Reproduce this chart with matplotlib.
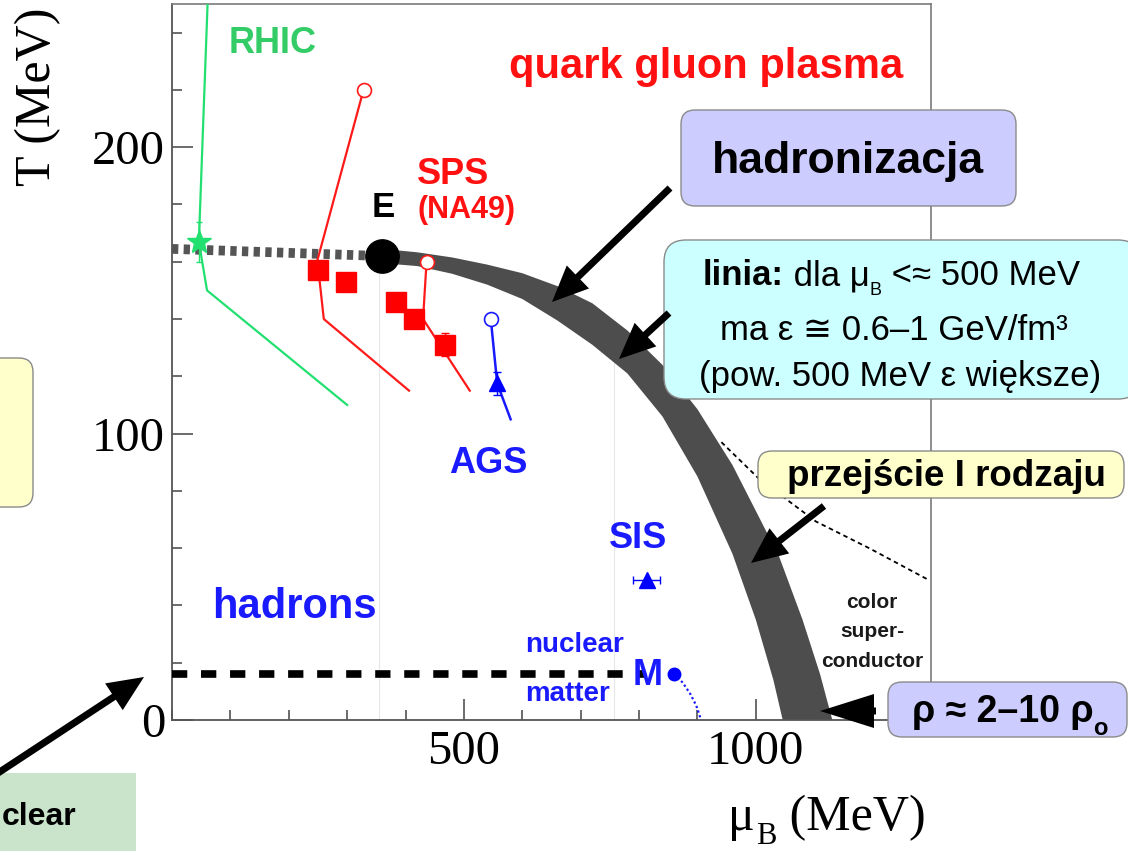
import matplotlib
matplotlib.use("Agg")
import matplotlib.pyplot as plt
import numpy as np
from matplotlib.patches import FancyBboxPatch, FancyArrow
from matplotlib.text import Annotation
from matplotlib.ticker import FixedLocator, MultipleLocator

plt.rcParams['font.family'] = ['Liberation Sans', 'DejaVu Sans']

W, H, DPI = 1128, 851, 100

# transition band: outer (upper/right) and inner (lower/left) edge, (mu_B, T) in MeV
band_outer_mu = [360, 420, 480, 540, 600, 660, 720, 780, 840, 900, 960, 1000, 1040, 1080, 1110, 1131]
band_outer_t = [164.5, 163.3, 161.5, 159.0, 156.0, 151.5, 145.5, 136.0, 124.0, 108.5, 89.0, 73.0,
                57.0, 35.0, 16.0, 0.0]
band_inner_mu = [360, 420, 480, 540, 600, 660, 720, 780, 840, 900, 960, 1000, 1030, 1046]
band_inner_t = [159.5, 158.5, 155.8, 152.0, 147.0, 139.5, 131.0, 121.0, 106.0, 85.0, 58.0, 35.0,
                14.0, 0.0]

# crossover line ending at the critical point E
crossover_mu = [0, 360]
crossover_t = [164.5, 162.0]
e_mu, e_t = 360, 162

# RHIC
rhic_mu = [62, 46, 60, 300]
rhic_t = [256, 167, 150, 110]
rhic_pt_mu, rhic_pt_t, rhic_pt_err = 46, 167, 7

# SPS (NA49)
sps_a_mu = [328, 249, 260, 406]
sps_a_t = [220, 160.5, 140, 115]
sps_b_mu = [436, 430, 510]
sps_b_t = [160, 140, 115]
sps_mu = [250, 298, 383, 414, 467]
sps_t = [157, 153, 146, 140, 131]
sps_err = [0, 2.5, 0, 0, 4]

# AGS
ags_mu = [546, 557, 580]
ags_t = [140, 117.5, 105]
ags_pt_mu, ags_pt_t, ags_pt_err = 557, 117.5, 4

# SIS
sis_mu, sis_t, sis_err = 813, 49, 23

# nuclear matter
nm_line_mu = [0, 808]
nm_line_t = [16, 16]
m_mu, m_t = 860, 16
m_curve_mu = [860, 875, 888, 898, 903, 906]
m_curve_t = [16, 13, 9, 5, 2, 0]

# colour superconductor boundary
csc_mu = [941, 1005, 1103, 1195, 1295]
csc_t = [97, 84.3, 69.3, 59.9, 49]


def px(x, y):
    # pixel position measured from the top-left corner -> inches from bottom-left
    return x / DPI, (H - y) / DPI


def box(fig, x0, y0, x1, y1, fc, ec='#8a8a8a', r=14):
    a, b = px(x0, y1)
    fig.add_artist(FancyBboxPatch((a, b), (x1 - x0) / DPI, (y1 - y0) / DPI,
                                  boxstyle=f"round,pad=0,rounding_size={r / DPI}",
                                  fc=fc, ec=ec, lw=1.0, transform=fig.dpi_scale_trans,
                                  zorder=5))


def arrow(fig, x0, y0, x1, y1, width=7, head_w=32, head_l=36):
    a0 = px(x0, y0)
    a1 = px(x1, y1)
    fig.add_artist(FancyArrow(a0[0], a0[1], a1[0] - a0[0], a1[1] - a0[1],
                              width=width / DPI, head_width=head_w / DPI,
                              head_length=head_l / DPI, length_includes_head=True,
                              color='black', lw=0, transform=fig.dpi_scale_trans,
                              zorder=6))


def ftext(fig, x, y, s, **kw):
    kw.setdefault('zorder', 7)
    return fig.text(*px(x, y), s, transform=fig.dpi_scale_trans, **kw)


def chain(fig, prev, s, dx=0, dy=0, **kw):
    # put a piece of text right after the previous one (sub/superscripts, mixed weights)
    ann = Annotation(s, xy=(1, 0), xycoords=prev, xytext=(dx, dy),
                     textcoords='offset points', ha='left', va='bottom', **kw)
    ann.set_zorder(7)
    fig.add_artist(ann)
    return ann


def plot_diagram():
    fig = plt.figure(figsize=(W / DPI, H / DPI), dpi=DPI)
    ax = fig.add_axes([172 / W, (H - 720) / H, (931 - 172) / W, (720 - 4) / H])
    ax.set_xlim(0, 1300)
    ax.set_ylim(0, 250)

    # faint guide lines
    ax.plot([354, 354], [0, 158], color='#e6e6e6', lw=0.8, zorder=0)
    ax.plot([757, 757], [0, 128], color='#e6e6e6', lw=0.8, zorder=0)

    # transition band
    ax.fill(np.concatenate([band_outer_mu, band_inner_mu[::-1]]),
            np.concatenate([band_outer_t, band_inner_t[::-1]]),
            color='#4d4d4d', lw=0, zorder=2)
    ax.plot(crossover_mu, crossover_t, color='#555555', lw=7,
            linestyle=(0, (0.65, 0.55)), dash_capstyle='butt', zorder=2)
    ax.plot(e_mu, e_t, 'o', color='black', ms=24, zorder=4)

    # RHIC
    ax.plot(rhic_mu, rhic_t, color='#22e070', lw=1.6, zorder=3)
    ax.errorbar(rhic_pt_mu, rhic_pt_t, yerr=rhic_pt_err, fmt='*', color='#22e070',
                ms=18, elinewidth=1, capsize=2, zorder=4)

    # SPS
    ax.plot(sps_a_mu, sps_a_t, color='#ff1a1a', lw=1.6, zorder=3)
    ax.plot(sps_b_mu, sps_b_t, color='#ff1a1a', lw=1.6, zorder=3)
    ax.plot([sps_a_mu[0], sps_b_mu[0]], [sps_a_t[0], sps_b_t[0]], 'o', mfc='white',
            mec='#ff1a1a', ms=10, mew=1.2, lw=0, zorder=4)
    ax.errorbar(sps_mu, sps_t, yerr=sps_err, fmt='s', color='#ff0000', ms=14.5,
                elinewidth=1, capsize=3, zorder=4)

    # AGS
    ax.plot(ags_mu, ags_t, color='#1a1aff', lw=1.8, zorder=3)
    ax.plot(ags_mu[0], ags_t[0], 'o', mfc='white', mec='#1a1aff', ms=10, mew=1.2, zorder=4)
    ax.errorbar(ags_pt_mu, ags_pt_t, yerr=ags_pt_err, fmt='^', color='#0000ff', ms=12,
                elinewidth=1, capsize=3, zorder=4)

    # SIS
    ax.errorbar(sis_mu, sis_t, xerr=sis_err, fmt='^', color='#0000ff', ms=12,
                elinewidth=1, capsize=3, zorder=4)

    # nuclear matter
    ax.plot(nm_line_mu, nm_line_t, color='black', lw=5.5, linestyle=(0, (2.0, 1.8)),
            dash_capstyle='butt', zorder=3)
    ax.plot(m_curve_mu, m_curve_t, color='#1a1aff', lw=1.6, linestyle=(0, (1, 1.2)), zorder=3)
    ax.plot(m_mu, m_t, 'o', color='#0000ff', ms=9, zorder=4)

    # colour superconductor boundary
    ax.plot(csc_mu, csc_t, color='black', lw=1.3, linestyle=(0, (2.5, 2)), zorder=3)

    # region labels
    green, red, blue = '#33cc66', '#ff1111', '#1a1aff'
    ax.text(172, 233, 'RHIC', color=green, fontsize=26, fontweight='bold', ha='center', va='baseline')
    ax.text(914, 224, 'quark gluon plasma', color=red, fontsize=30, fontweight='bold',
            ha='center', va='baseline')
    ax.text(420, 187.3, 'SPS', color=red, fontsize=26, fontweight='bold', ha='left', va='baseline')
    ax.text(420, 175.4, '(NA49)', color=red, fontsize=22, fontweight='bold', ha='left', va='baseline')
    ax.text(361, 175.7, 'E', color='black', fontsize=25, fontweight='bold', ha='center', va='baseline')
    ax.text(542, 86.4, 'AGS', color=blue, fontsize=26, fontweight='bold', ha='center', va='baseline')
    ax.text(798, 60.2, 'SIS', color=blue, fontsize=26, fontweight='bold', ha='center', va='baseline')
    ax.text(210, 35.5, 'hadrons', color=blue, fontsize=30, fontweight='bold', ha='center', va='baseline')
    ax.text(605, 23.9, 'nuclear', color=blue, fontsize=20, fontweight='bold', ha='left', va='baseline')
    ax.text(605, 6.8, 'matter', color=blue, fontsize=20, fontweight='bold', ha='left', va='baseline')
    ax.text(814, 12.2, 'M', color=blue, fontsize=26, fontweight='bold', ha='center', va='baseline')
    for label, t in [('color', 39.2), ('super-', 29.1), ('conductor', 18.6)]:
        ax.text(1199, t, label, color='#1a1a1a', fontsize=15, fontweight='bold',
                ha='center', va='baseline')

    # axes styling
    for side in ['left', 'bottom']:
        ax.spines[side].set_color('#555555')
        ax.spines[side].set_linewidth(1.3)
    for side in ['top', 'right']:
        ax.spines[side].set_color('#7a7a7a')
        ax.spines[side].set_linewidth(1.2)
    ax.xaxis.set_major_locator(FixedLocator([500, 1000]))
    ax.xaxis.set_minor_locator(MultipleLocator(100))
    ax.yaxis.set_major_locator(FixedLocator([0, 100, 200]))
    ax.yaxis.set_minor_locator(MultipleLocator(20))
    ax.tick_params(which='both', direction='in', color='#444444', width=1.1,
                   top=False, right=False)
    ax.tick_params(which='major', length=15)
    ax.tick_params(which='minor', length=7)
    ax.tick_params(axis='x', pad=7)
    ax.tick_params(axis='y', pad=5)
    for lab in ax.get_xticklabels() + ax.get_yticklabels():
        lab.set_fontfamily('Liberation Serif')
        lab.set_fontsize(35)

    # axis titles
    serif = 'Liberation Serif'
    ftext(fig, 38, 186, 'T (MeV)', rotation=90, ha='center', va='bottom',
          fontsize=36, family=serif)
    mu = ftext(fig, 728, 830, 'μ', ha='left', va='baseline', fontsize=36, family=serif)
    sub = chain(fig, mu, 'B', dx=1, dy=-7, fontsize=22, family=serif)
    chain(fig, sub, ' (MeV)', dx=0, dy=7, fontsize=36, family=serif)

    # callout boxes
    box(fig, -40, 358, 33, 507, '#ffffcc')
    box(fig, -20, 773, 136, 870, '#c9e4ca', ec='none', r=0)
    ftext(fig, 76, 825, 'clear', ha='right', va='baseline', fontsize=23, fontweight='bold')

    box(fig, 681, 110, 1016, 206, '#ccccff')
    ftext(fig, 848, 173, 'hadronizacja', ha='center', va='baseline', fontsize=32, fontweight='bold')

    box(fig, 664, 240, 1140, 399, '#ccffff', r=22)
    t1 = ftext(fig, 703, 292, 'linia:', ha='left', va='bottom', fontsize=25, fontweight='bold')
    t2 = chain(fig, t1, ' dla μ', fontsize=25)
    t3 = chain(fig, t2, 'B', dy=-5, fontsize=13)
    chain(fig, t3, ' <≈ 500 MeV', dy=5, fontsize=25)
    ftext(fig, 894, 340, 'ma ε ≅ 0.6–1 GeV/fm³', ha='center', va='baseline', fontsize=25)
    ftext(fig, 900, 386, '(pow. 500 MeV ε większe)', ha='center', va='baseline', fontsize=25)

    box(fig, 758, 451, 1124, 498, '#ffffcc')
    ftext(fig, 946, 486, 'przejście I rodzaju', ha='center', va='baseline',
          fontsize=26.5, fontweight='bold')

    box(fig, 888, 682, 1127, 737, '#ccccff')
    r1 = ftext(fig, 912, 722, 'ρ ≈ 2–10 ρ', ha='left', va='baseline', fontsize=27, fontweight='bold')
    chain(fig, r1, 'o', dy=-7, fontsize=17, fontweight='bold')

    # arrows
    arrow(fig, 670, 188, 552, 302)
    arrow(fig, 669, 313, 619, 359)
    arrow(fig, 824, 506, 751, 563)
    arrow(fig, 876, 711, 820, 711, head_w=34, head_l=54)
    arrow(fig, -5, 775, 144, 677)

    return fig


if __name__ == "__main__":
    fig = plot_diagram()
    fig.savefig('out.png', dpi=DPI)
